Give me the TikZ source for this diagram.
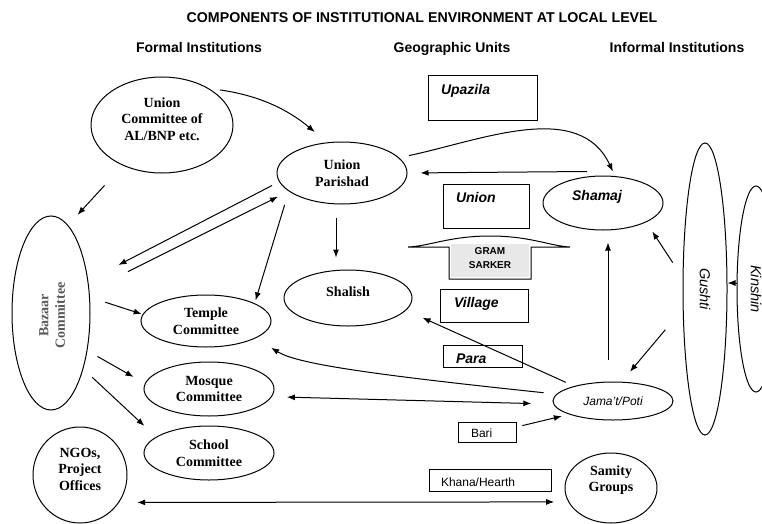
\documentclass[tikz,border=0pt]{standalone}
\usepackage{fontspec}
\setmainfont{Liberation Serif}
\setsansfont{Liberation Sans}
\usetikzlibrary{arrows.meta,shapes.geometric}
\begin{document}
\begin{tikzpicture}[x=1pt,y=-1pt,
  ell/.style={draw, ellipse, line width=1pt, inner sep=0pt, align=center, font=\fontsize{14}{16.5}\selectfont\bfseries},
  bx/.style={draw, rectangle, line width=1pt, inner sep=0pt},
  ser/.style={font=\fontsize{14}{16.5}\selectfont\bfseries, align=center},
  sbi/.style={font=\sffamily\bfseries\itshape\fontsize{14}{16}\selectfont, anchor=base west},
  srg/.style={font=\sffamily\fontsize{12}{14}\selectfont, anchor=base west},
  hdr/.style={font=\sffamily\bfseries\fontsize{14}{16}\selectfont, anchor=base},
  arr/.style={line width=1pt, -{Latex[length=8pt,width=6pt]}},
  arrb/.style={line width=1pt, {Latex[length=8pt,width=6pt]}-{Latex[length=8pt,width=6pt]}},
]
\useasboundingbox (0,0) rectangle (762,524);

% headings
\node[hdr, font=\sffamily\bfseries\fontsize{14.2}{16}\selectfont] (title) at (422,23) {COMPONENTS OF INSTITUTIONAL ENVIRONMENT AT LOCAL LEVEL};
\node[hdr] (hformal) at (199,53) {Formal Institutions};
\node[hdr] (hgeo) at (452,53) {Geographic Units};
\node[hdr] (hinf) at (677,53) {Informal Institutions};

% formal institutions
\node[ell, minimum width=142pt, minimum height=96pt,
  label={[ser, yshift=6pt]center:{Union\\Committee of\\AL/BNP etc.}}] (uc) at (162,125) {};
\node[ell, minimum width=130pt, minimum height=62pt] (up) at (342,173) {Union\\Parishad};
\node[ell, minimum width=78pt, minimum height=194pt,
  label={[ser, rotate=90, text=black!65, xshift=-2.5pt, yshift=-1pt]center:{Bazaar\\Committee}}] (bz) at (51,313) {};
\node[ell, minimum width=130pt, minimum height=52pt] (tc) at (206,321) {Temple\\Committee};
\node[ell, minimum width=128pt, minimum height=56pt,
  label={[ser, yshift=6pt]center:Shalish}] (sl) at (348,298) {};
\node[ell, minimum width=130pt, minimum height=54pt] (mc) at (209,389) {Mosque\\Committee};
\node[ell, minimum width=130pt, minimum height=54pt] (scc) at (209,453) {School\\Committee};
\node[ell, minimum width=94pt, minimum height=96pt,
  label={[ser, yshift=6pt]center:{NGOs,\\Project\\Offices}}] (ngo) at (80,475) {};

% informal institutions
\node[ell, minimum width=120pt, minimum height=54pt,
  label={[font=\sffamily\bfseries\itshape\fontsize{14}{16}\selectfont, xshift=-6pt, yshift=6pt]center:Shamaj}] (sh) at (603,203) {};
\node[ell, minimum width=120pt, minimum height=38pt, font=\sffamily\itshape\fontsize{12}{14}\selectfont] (jp) at (613,401) {Jama't/Poti};
\node[ell, minimum width=92pt, minimum height=70pt,
  label={[ser, yshift=8pt]center:{Samity\\Groups}}] (sg) at (611,488) {};
\node[ell, minimum width=44pt, minimum height=292pt,
  label={[font=\sffamily\itshape\fontsize{14.5}{16}\selectfont, rotate=-90]center:Gushti}] (gu) at (705,289) {};
\node[ell, minimum width=38pt, minimum height=206pt,
  label={[font=\sffamily\itshape\fontsize{14.5}{16}\selectfont, rotate=-90]center:Kinshin}] (ki) at (756,289) {};

% geographic units
\node[bx, minimum width=109pt, minimum height=44pt,
  label={[sbi, xshift=10pt, yshift=-19pt]north west:Upazila}] (upz) at (482.5,98) {};
\node[bx, minimum width=86pt, minimum height=44pt,
  label={[sbi, xshift=10pt, yshift=-19pt]north west:Union}] (uni) at (486,206) {};
\node[fill=black!9, inner sep=0pt, minimum width=78pt, minimum height=33pt,
  label={[font=\sffamily\bfseries\fontsize{10}{13.5}\selectfont, align=center, yshift=2.5pt]center:{GRAM\\SARKER}}] (gram) at (490,260.5) {};
\draw[line width=1pt] (408,247) -- (449,247) -- (449,279) -- (531,279) -- (531,247) -- (570,247)
  .. controls (550,246) and (530,236) .. (490,236)
  .. controls (450,236) and (430,246) .. (408,247);
\node[bx, minimum width=88pt, minimum height=33pt,
  label={[sbi, xshift=11pt, yshift=-19pt]north west:Village}] (vil) at (484,305.5) {};
\node[bx, minimum width=79pt, minimum height=22pt,
  label={[sbi, xshift=10pt, yshift=-19pt]north west:Para}] (para) at (482.5,356) {};
\node[bx, minimum width=58pt, minimum height=20pt,
  label={[srg, xshift=10pt, yshift=-15.5pt]north west:Bari}] (bari) at (487,432) {};
\node[bx, minimum width=122pt, minimum height=22pt,
  label={[srg, xshift=9pt, yshift=-17.5pt]north west:Khana/Hearth}] (khana) at (490,480) {};

% connectors
\draw[arr, shorten <=11pt, shorten >=16pt] (uc.38) to[out=-8,in=140] (up.116);
\draw[arr, shorten <=27pt, shorten >=14pt] (uc.226) -- (bz.79);
\draw[arr, shorten <=10pt, shorten >=5pt] (up.15) to[out=12,in=115] (sh.66);
\draw[arr, shorten >=13pt] ([xshift=-16pt,yshift=4pt]sh.north) -- (up.east);
\draw[arr, shorten <=8pt, shorten >=34pt] (up.188) -- (bz.41);
\draw[arr, shorten <=43pt, shorten >=12pt] (bz.30) -- (up.199);
\draw[arr, shorten <=14pt, shorten >=3pt] (up.199) -- (tc.20);
\draw[arr, shorten <=13pt, shorten >=12pt] ([xshift=-6pt]up.south) -- ([xshift=-12pt]sl.north);
\draw[arr, shorten <=16pt, shorten >=1pt] (bz.22) -- (tc.174);
\draw[arr, shorten <=11.5pt, shorten >=13pt] (bz.-46) -- (mc.175);
\draw[arr, shorten <=12pt, shorten >=16pt] (bz.-60) -- (scc.163);
\draw[arr, shorten <=13pt, shorten >=18pt] (jp.173) to[out=174,in=-32,out looseness=1.6,in looseness=0.4] (tc.-19);
\draw[arrb, shorten <=15pt, shorten >=22pt] (mc.-7) -- (jp.183);
\draw[arr, shorten <=9pt, shorten >=18pt] (jp.159) -- (sl.-12);
\draw[arr, shorten <=22pt, shorten >=12pt] ([xshift=-5pt]jp.north) -- ([xshift=5pt]sh.south);
\draw[arr, shorten <=18pt, shorten >=11pt] (gu.153) -- (sh.-24);
\draw[arr, shorten <=27pt, shorten >=13pt] (gu.222) -- (jp.66);
\draw[arr] ([yshift=6pt]ki.west) -- ([yshift=6pt]gu.east);
\draw[arr, shorten <=6pt, shorten >=7.5pt] ([yshift=5pt]bari.east) -- (jp.197);
\draw[arrb, shorten <=18pt, shorten >=14pt] (ngo.-35) -- (sg.198);
\end{tikzpicture}
\end{document}
